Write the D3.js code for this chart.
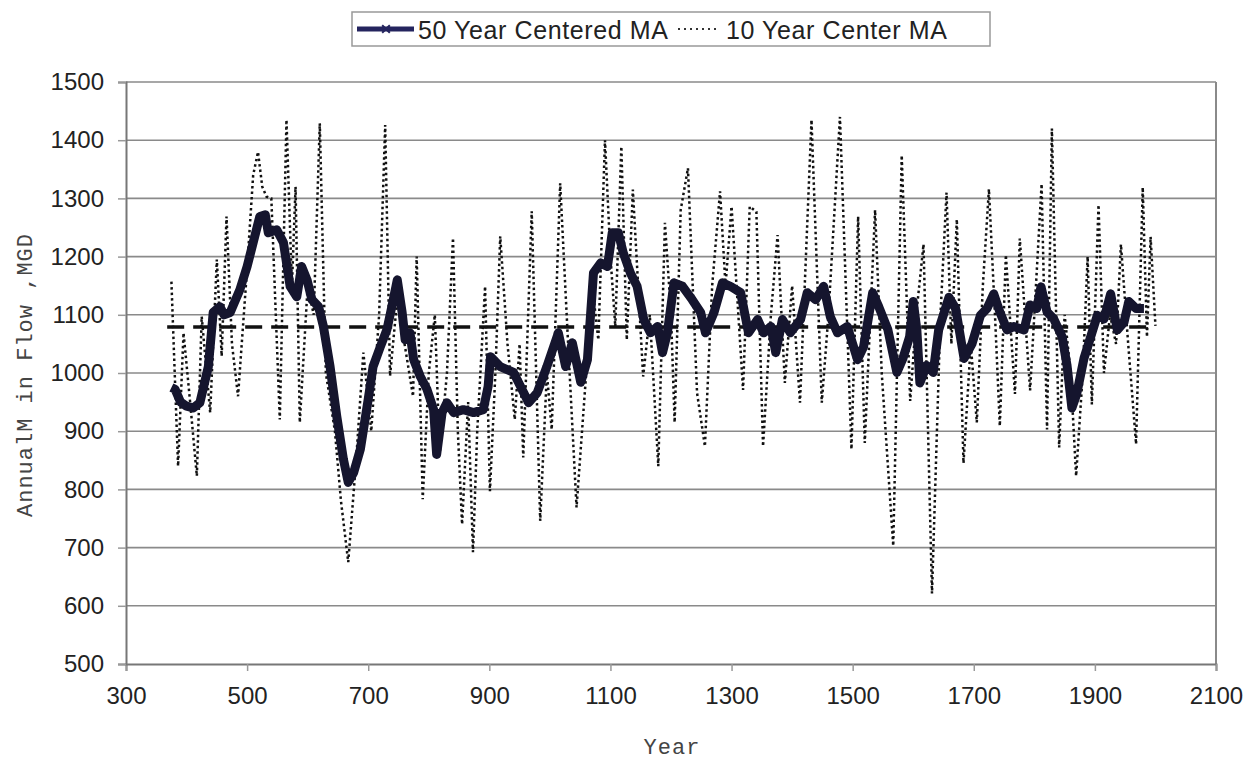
<!DOCTYPE html>
<html>
<head>
<meta charset="utf-8">
<script src="https://cdn.jsdelivr.net/npm/d3@7"></script>
<style>
  body { margin: 0; background: #fff; }
  svg { display: block; }
  .tick-label { font-family: "Liberation Sans", Arial, sans-serif; font-size: 24px; fill: #222; }
  .axis-title { font-family: "Liberation Mono", "Courier New", monospace; font-size: 22px; fill: #444; letter-spacing: 1px; }
  .legend-text { font-family: "Liberation Sans", Arial, sans-serif; font-size: 25px; fill: #222; letter-spacing: 0.6px; }
</style>
</head>
<body>
<div id="chart"></div>
<script>
// 50 year centered moving average
const ma50Years = [375, 381, 390, 400, 411, 422, 436, 444, 455, 462, 472, 488, 500, 510, 521, 530, 535, 549, 560, 571,
  582, 590, 599, 607, 618, 626, 637, 648, 659, 667, 676, 687, 700, 708, 720, 731, 739, 748, 756, 761,
  769, 775, 786, 797, 808, 813, 822, 830, 841, 857, 874, 890, 898, 902, 918, 940, 965, 979, 995, 1014,
  1026, 1037, 1051, 1062, 1072, 1084, 1095, 1103, 1113, 1121, 1133, 1144, 1155, 1166, 1178, 1186, 1194, 1205, 1219, 1235,
  1249, 1257, 1271, 1285, 1298, 1315, 1328, 1343, 1353, 1365, 1373, 1384, 1397, 1414, 1425, 1439, 1452, 1463, 1475, 1491,
  1508, 1518, 1533, 1543, 1558, 1573, 1583, 1594, 1600, 1606, 1611, 1622, 1633, 1642, 1659, 1670, 1684, 1697, 1711, 1722,
  1733, 1743, 1755, 1766, 1783, 1793, 1804, 1811, 1821, 1832, 1846, 1854, 1862, 1870, 1882, 1893, 1904, 1915, 1926, 1937,
  1948, 1956, 1968, 1981];
const ma50Values = [975, 972, 950, 943, 940, 949, 1011, 1104, 1114, 1100, 1104, 1143, 1183, 1224, 1269, 1272, 1241, 1246, 1224, 1149,
  1131, 1183, 1160, 1126, 1114, 1080, 1011, 926, 852, 812, 829, 869, 955, 1011, 1045, 1075, 1114, 1160, 1104, 1057,
  1069, 1023, 994, 972, 937, 860, 932, 949, 932, 937, 932, 937, 977, 1028, 1011, 1001, 949, 966, 1011, 1069,
  1011, 1052, 984, 1023, 1172, 1189, 1183, 1241, 1241, 1207, 1172, 1149, 1092, 1069, 1080, 1035, 1069, 1155, 1149, 1126,
  1104, 1069, 1104, 1155, 1149, 1138, 1069, 1092, 1069, 1080, 1035, 1092, 1069, 1092, 1138, 1126, 1149, 1097, 1069, 1080,
  1023, 1045, 1138, 1114, 1075, 1001, 1025, 1062, 1123, 1074, 983, 1013, 1001, 1074, 1130, 1111, 1025, 1050, 1099, 1111,
  1136, 1105, 1074, 1080, 1074, 1117, 1111, 1148, 1105, 1093, 1062, 1013, 940, 964, 1025, 1062, 1099, 1093, 1136, 1074,
  1087, 1123, 1111, 1111];

// 10 year centered moving average (peaks and troughs)
const ma10Years = [375, 386, 395, 405, 417, 425, 439, 450, 458, 466, 475, 485, 500, 510, 518, 525, 532, 540, 554, 565,
  574, 580, 587, 600, 610, 620, 630, 645, 655, 667, 680, 692, 705, 718, 728, 736, 750, 760, 774, 780,
  790, 800, 810, 818, 830, 840, 848, 855, 865, 873, 880, 893, 901, 910, 918, 930, 942, 950, 956, 970,
  984, 995, 1003, 1017, 1030, 1044, 1060, 1070, 1080, 1091, 1100, 1108, 1118, 1127, 1137, 1154, 1165, 1179, 1190, 1200,
  1206, 1216, 1228, 1243, 1256, 1268, 1281, 1290, 1300, 1319, 1330, 1341, 1352, 1365, 1376, 1388, 1400, 1413, 1432, 1449,
  1460, 1479, 1498, 1509, 1520, 1537, 1548, 1567, 1581, 1595, 1605, 1617, 1631, 1645, 1655, 1663, 1672, 1683, 1695, 1705,
  1715, 1725, 1735, 1743, 1753, 1768, 1776, 1793, 1800, 1812, 1821, 1829, 1841, 1850, 1860, 1869, 1880, 1888, 1895, 1906,
  1915, 1925, 1935, 1943, 1955, 1968, 1979, 1986, 1992, 2000];
const ma10Values = [1157, 840, 1069, 960, 823, 1097, 932, 1195, 1029, 1269, 1050, 960, 1180, 1340, 1380, 1320, 1303, 1300, 920, 1435,
  1150, 1320, 915, 1150, 1100, 1429, 1000, 900, 780, 675, 850, 1035, 900, 1100, 1426, 995, 1150, 1050, 960, 1200,
  783, 1000, 1100, 860, 1000, 1232, 900, 740, 950, 692, 900, 1149, 797, 1000, 1235, 1050, 920, 1050, 855, 1278,
  746, 1000, 903, 1326, 1052, 769, 1000, 1150, 1057, 1400, 1200, 1080, 1389, 1057, 1315, 994, 1100, 840, 1258, 1100,
  915, 1280, 1352, 966, 874, 1150, 1312, 1150, 1286, 971, 1286, 1277, 874, 1100, 1237, 983, 1150, 949, 1435, 949,
  1100, 1440, 869, 1269, 880, 1280, 1000, 703, 1374, 952, 1100, 1221, 621, 1100, 1310, 1050, 1264, 845, 1050, 915,
  1150, 1316, 1100, 909, 1203, 964, 1231, 970, 1100, 1325, 903, 1420, 872, 1100, 1000, 823, 1000, 1200, 946, 1289,
  1000, 1100, 1050, 1221, 1050, 878, 1319, 1062, 1234, 1081];

// long term mean and its extent
const meanFlow = 1079;
const meanYears = [368, 1985];

const xTicks = [300, 500, 700, 900, 1100, 1300, 1500, 1700, 1900, 2100];
const yTicks = [500, 600, 700, 800, 900, 1000, 1100, 1200, 1300, 1400, 1500];

const seriesNames = ["50 Year Centered MA", "10 Year Center MA"];

const width = 1258, height = 764;
const margin = {left: 126, right: 42, top: 82, bottom: 100};

const svg = d3.select("#chart").append("svg")
  .attr("width", width)
  .attr("height", height);

const x = d3.scaleLinear().domain([300, 2100]).range([margin.left, width - margin.right]);
const y = d3.scaleLinear().domain([500, 1500]).range([height - margin.bottom, margin.top]);

// grid lines
svg.append("g")
  .selectAll("line")
  .data(yTicks.filter(d => d > 500))
  .join("line")
  .attr("x1", x(300)).attr("x2", x(2100))
  .attr("y1", d => y(d)).attr("y2", d => y(d))
  .attr("stroke", "#8a8a8a")
  .attr("stroke-width", 1.6);

// right border
svg.append("line")
  .attr("x1", x(2100)).attr("x2", x(2100))
  .attr("y1", y(1500)).attr("y2", y(500))
  .attr("stroke", "#8a8a8a")
  .attr("stroke-width", 2);

// axes
const xAxis = svg.append("g")
  .attr("transform", `translate(0,${y(500)})`)
  .call(d3.axisBottom(x).tickValues(xTicks).tickSize(7).tickPadding(10).tickFormat(d3.format("d")));
const yAxis = svg.append("g")
  .attr("transform", `translate(${x(300)},0)`)
  .call(d3.axisLeft(y).tickValues(yTicks).tickSize(8).tickPadding(14).tickFormat(d3.format("d")));

[xAxis, yAxis].forEach(g => {
  g.select(".domain").attr("stroke", "#777").attr("stroke-width", 2);
  g.selectAll(".tick line").attr("stroke", "#999").attr("stroke-width", 1.5);
  g.selectAll(".tick text").attr("class", "tick-label").attr("fill", null);
});
xAxis.selectAll(".tick text").attr("dy", "0.95em");

// mean line
svg.append("line")
  .attr("x1", x(meanYears[0])).attr("x2", x(meanYears[1]))
  .attr("y1", y(meanFlow)).attr("y2", y(meanFlow))
  .attr("stroke", "#111")
  .attr("stroke-width", 3.5)
  .attr("stroke-dasharray", "17,9");

const ma10 = ma10Years.map((d, i) => ({year: d, value: ma10Values[i]}));
const ma50 = ma50Years.map((d, i) => ({year: d, value: ma50Values[i]}));

const line = d3.line()
  .x(d => x(d.year))
  .y(d => y(d.value));

// 10 year MA, dotted
svg.append("path")
  .datum(ma10)
  .attr("d", line)
  .attr("fill", "none")
  .attr("stroke", "#111")
  .attr("stroke-width", 2.5)
  .attr("stroke-dasharray", "2.5,3");

// 50 year MA, heavy
svg.append("path")
  .datum(ma50)
  .attr("d", line)
  .attr("fill", "none")
  .attr("stroke", "#15152e")
  .attr("stroke-width", 9)
  .attr("stroke-linejoin", "round");

// axis titles
svg.append("text")
  .attr("class", "axis-title")
  .attr("x", (x(300) + x(2100)) / 2 + 1)
  .attr("y", 754)
  .attr("text-anchor", "middle")
  .text("Year");

svg.append("text")
  .attr("class", "axis-title")
  .attr("transform", `translate(32,${(y(500) + y(1500)) / 2 + 2}) rotate(-90)`)
  .attr("text-anchor", "middle")
  .text("AnnualM in Flow ,MGD");

// legend
const legend = svg.append("g");
legend.append("rect")
  .attr("x", 352).attr("y", 12)
  .attr("width", 638).attr("height", 34)
  .attr("fill", "#fff")
  .attr("stroke", "#999")
  .attr("stroke-width", 1.5);

legend.append("line")
  .attr("x1", 357).attr("x2", 414)
  .attr("y1", 29).attr("y2", 29)
  .attr("stroke", "#24245e")
  .attr("stroke-width", 5);
legend.append("path")
  .attr("d", d3.symbol(d3.symbolX, 40)())
  .attr("transform", "translate(386,29)")
  .attr("stroke", "#24245e")
  .attr("stroke-width", 2);
legend.append("text")
  .attr("class", "legend-text")
  .attr("x", 418).attr("y", 39)
  .text(seriesNames[0]);

legend.append("line")
  .attr("x1", 678).attr("x2", 716)
  .attr("y1", 29).attr("y2", 29)
  .attr("stroke", "#333")
  .attr("stroke-width", 2)
  .attr("stroke-dasharray", "2,4");
legend.append("text")
  .attr("class", "legend-text")
  .attr("x", 726).attr("y", 39)
  .text(seriesNames[1]);
</script>
</body>
</html>
